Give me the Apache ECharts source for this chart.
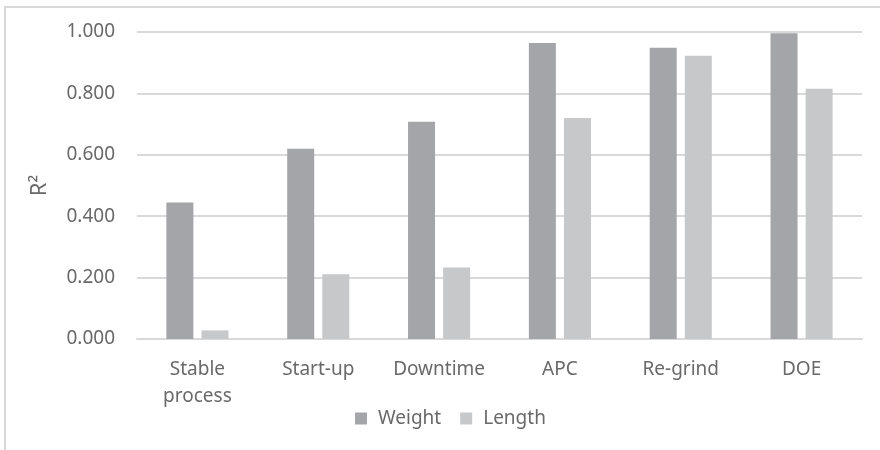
<!DOCTYPE html>
<html>
<head>
<meta charset="utf-8">
<script src="https://cdn.jsdelivr.net/npm/echarts@6/dist/echarts.min.js"></script>
<style>
  html, body { margin: 0; padding: 0; background: #fff; }
  #chart { width: 880px; height: 450px; }
</style>
</head>
<body>
<div id="chart"></div>
<script>
// R² per process scenario, for part weight and part length
const categories = ['Stable\nprocess', 'Start-up', 'Downtime', 'APC', 'Re-grind', 'DOE'];
const weightR2 = [0.445, 0.620, 0.708, 0.964, 0.949, 0.996];
const lengthR2 = [0.028, 0.211, 0.233, 0.720, 0.923, 0.815];
const seriesNames = ['Weight', 'Length'];

const textColor = '#696969';
const lineColor = '#d9d9d9';
const font = 'Noto Sans';

const chart = echarts.init(document.getElementById('chart'), null, { renderer: 'canvas' });
chart.setOption({
  animation: false,
  backgroundColor: '#ffffff',
  textStyle: { fontFamily: font },
  grid: { left: 137, right: 18, top: 32, bottom: 111 },
  legend: {
    data: seriesNames,
    bottom: 17,
    left: 350,
    itemWidth: 12,
    itemHeight: 12,
    itemGap: 19,
    icon: 'rect',
    textStyle: { color: textColor, fontSize: 19, fontFamily: font, padding: [0, 0, 0, 6] }
  },
  xAxis: {
    type: 'category',
    data: categories,
    axisLine: { lineStyle: { color: lineColor, width: 2 } },
    axisTick: { show: false },
    axisLabel: { color: textColor, fontSize: 19, fontFamily: font, lineHeight: 27, margin: 17 }
  },
  yAxis: {
    type: 'value',
    min: 0,
    max: 1,
    interval: 0.2,
    name: 'R²',
    nameLocation: 'middle',
    nameGap: 86,
    nameRotate: 90,
    nameTextStyle: { color: textColor, fontSize: 22, fontFamily: font },
    axisLine: { show: false },
    axisTick: { show: false },
    splitLine: { lineStyle: { color: lineColor, width: 2 } },
    axisLabel: {
      color: textColor, fontSize: 19, fontFamily: font, margin: 22,
      formatter: v => v.toFixed(3)
    }
  },
  series: [
    {
      name: seriesNames[0],
      type: 'bar',
      data: weightR2,
      barWidth: 27,
      barGap: '30%',
      itemStyle: { color: '#a4a5a9' }
    },
    {
      name: seriesNames[1],
      type: 'bar',
      data: lengthR2,
      barWidth: 27,
      itemStyle: { color: '#c7c8ca' }
    }
  ],
  graphic: [
    {
      type: 'polyline',
      shape: { points: [[5, 450], [5, 7], [880, 7]] },
      style: { stroke: lineColor, lineWidth: 2, fill: null },
      silent: true
    }
  ]
});
</script>
</body>
</html>
